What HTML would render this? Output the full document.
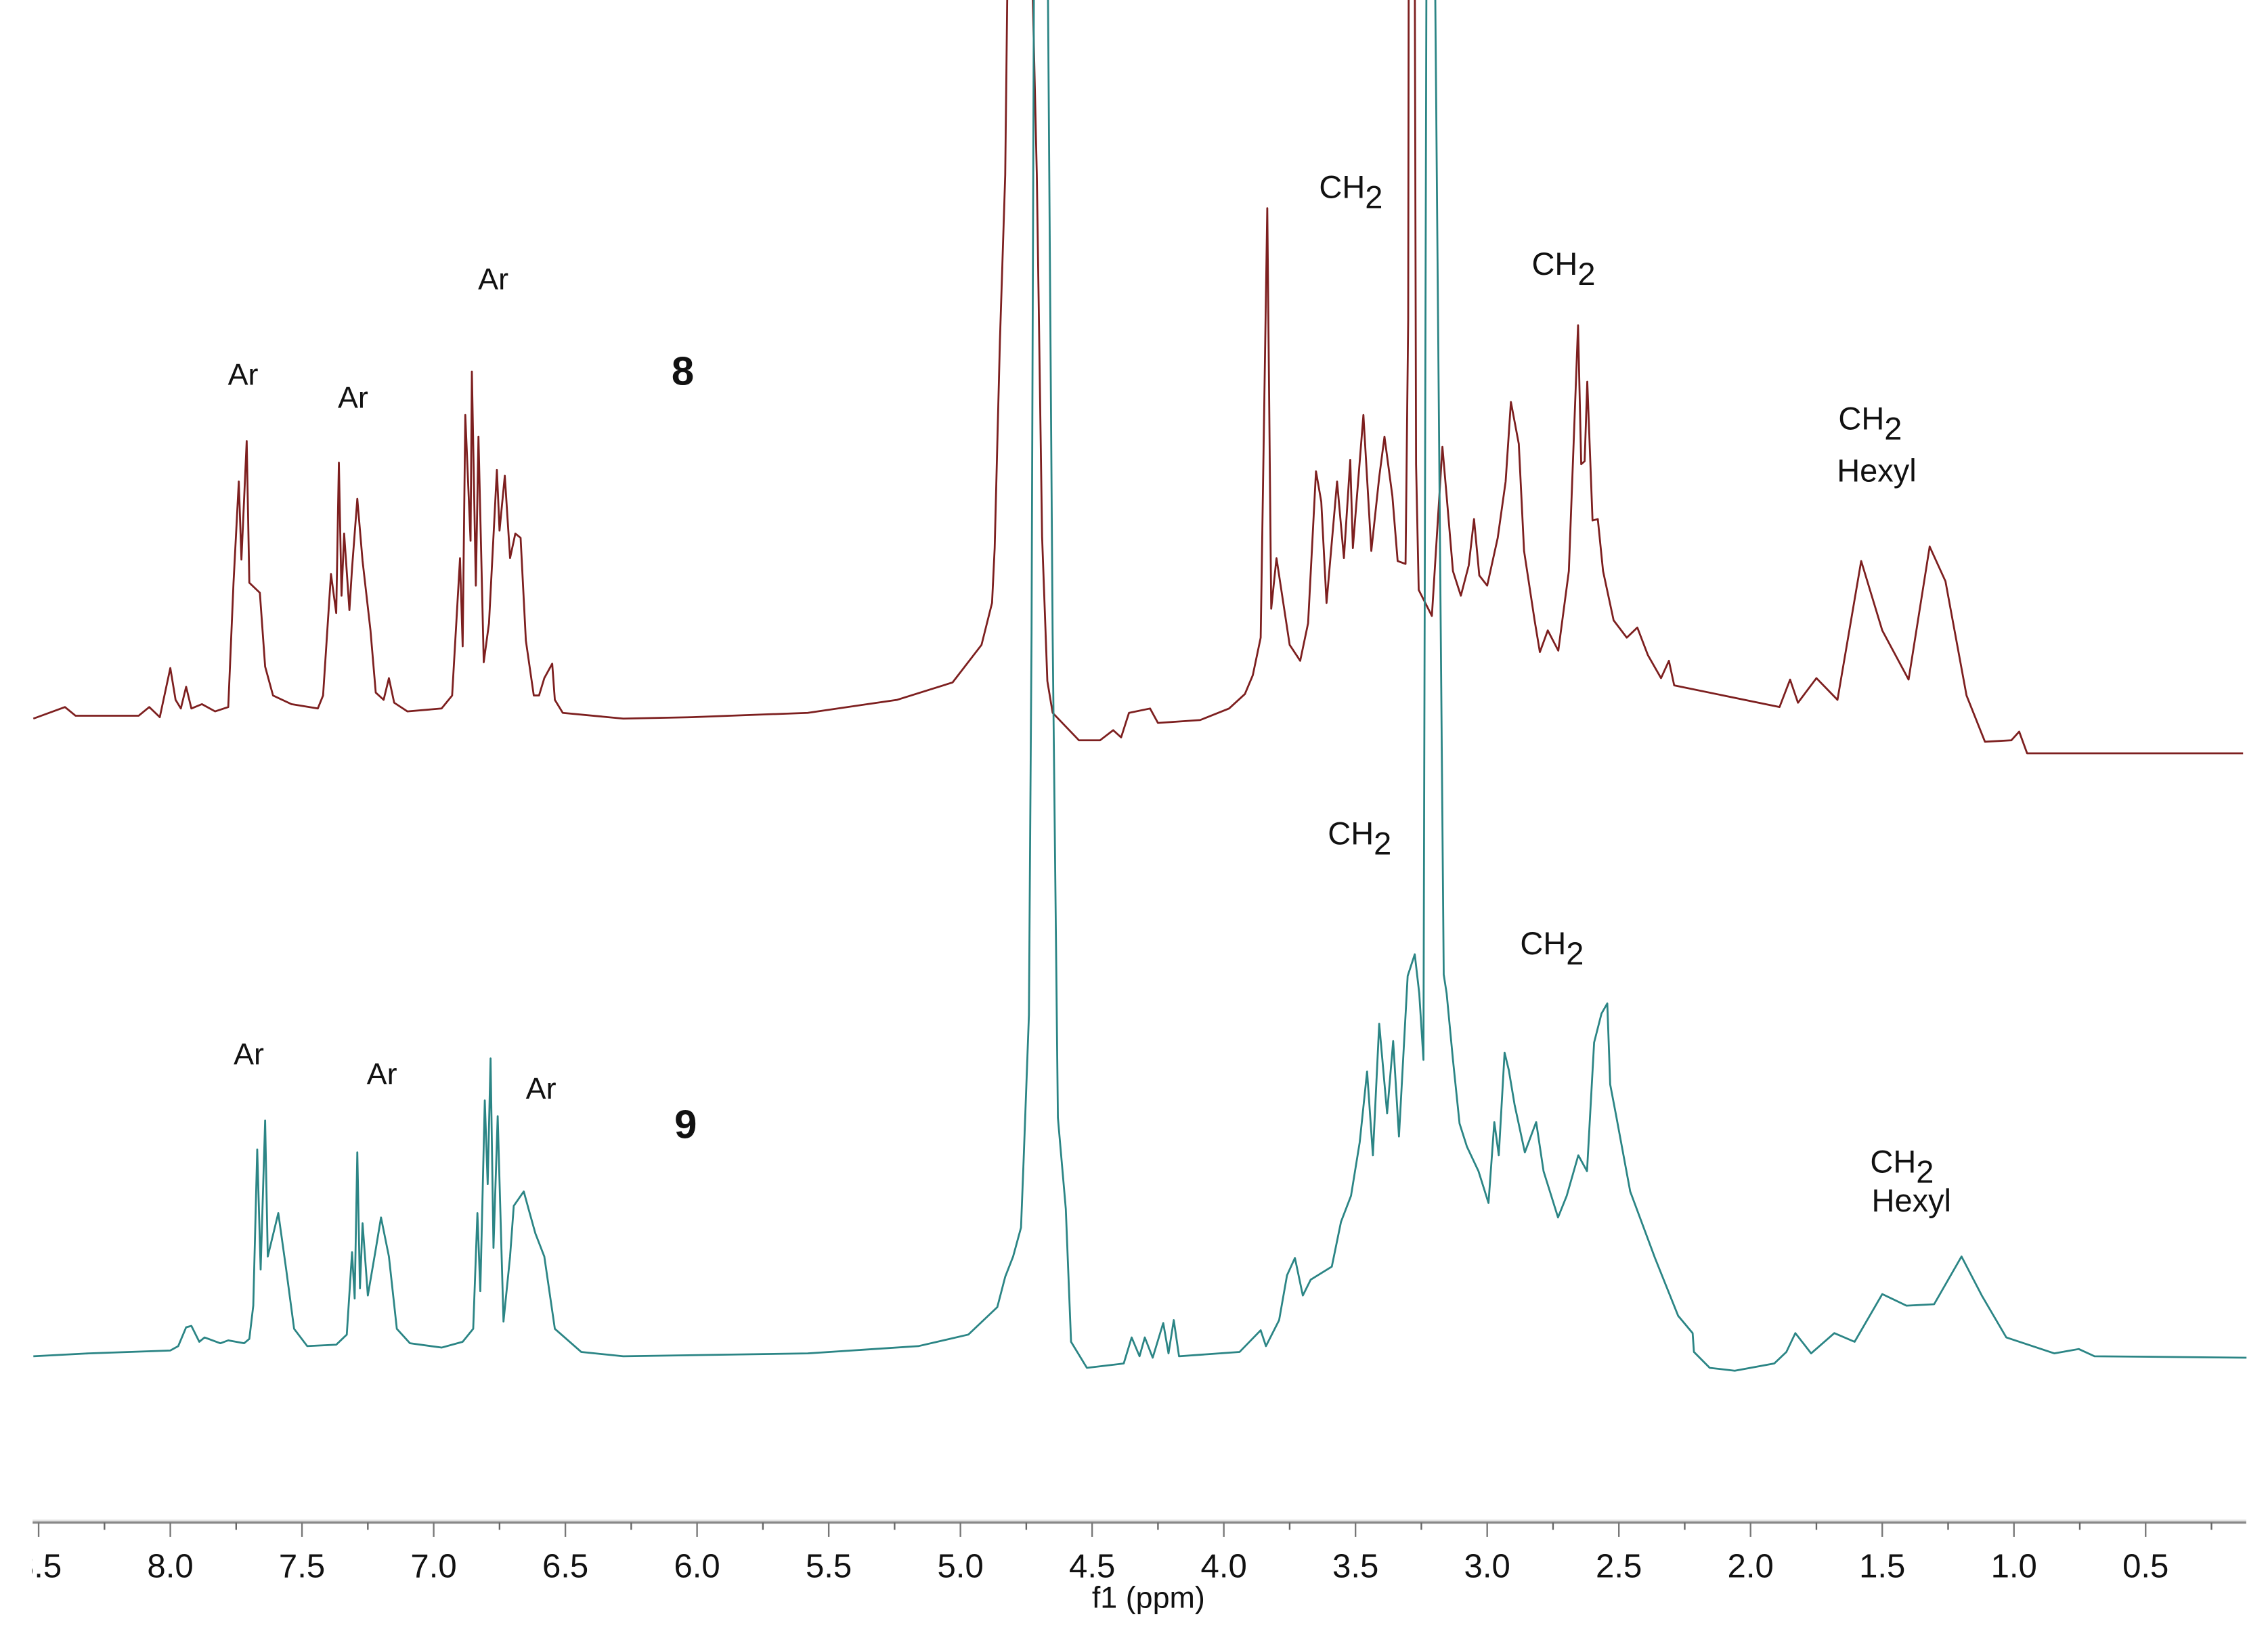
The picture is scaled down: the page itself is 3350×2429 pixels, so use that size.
<!DOCTYPE html>
<html>
<head>
<meta charset="utf-8">
<style>
  html, body { margin:0; padding:0; background:#ffffff; }
  body { width:3350px; height:2429px; overflow:hidden; }
  svg { display:block; }
  text { font-family:"Liberation Sans", Arial, sans-serif; fill:#111; }
</style>
</head>
<body>
<svg id="chart" width="3350" height="2429" viewBox="0 0 1568 1137" xmlns="http://www.w3.org/2000/svg">
  <defs>
    <clipPath id="plotClip"><rect x="22" y="0" width="1532" height="1050"/></clipPath>
    <clipPath id="axisClip"><rect x="22" y="1030" width="1540" height="107"/></clipPath>
  </defs>
  <g id="spectra" clip-path="url(#plotClip)"></g>
  <g id="labels">
    <text x="168" y="266" font-size="21" text-anchor="middle">Ar</text>
    <text x="244" y="282" font-size="21" text-anchor="middle">Ar</text>
    <text x="341" y="200" font-size="21" text-anchor="middle">Ar</text>
    <text x="472" y="266" font-size="28" font-weight="bold" text-anchor="middle">8</text>
    <text x="912" y="137" font-size="22">CH<tspan font-size="22" dy="7">2</tspan></text>
    <text x="1059" y="190" font-size="22">CH<tspan font-size="22" dy="7">2</tspan></text>
    <text x="1271" y="297" font-size="22">CH<tspan font-size="22" dy="7">2</tspan></text>
    <text x="1270" y="333" font-size="22">Hexyl</text>

    <text x="172" y="736" font-size="21" text-anchor="middle">Ar</text>
    <text x="264" y="750" font-size="21" text-anchor="middle">Ar</text>
    <text x="374" y="760" font-size="21" text-anchor="middle">Ar</text>
    <text x="474" y="787" font-size="28" font-weight="bold" text-anchor="middle">9</text>
    <text x="918" y="584" font-size="22">CH<tspan font-size="22" dy="7">2</tspan></text>
    <text x="1051" y="660" font-size="22">CH<tspan font-size="22" dy="7">2</tspan></text>
    <text x="1293" y="811" font-size="22">CH<tspan font-size="22" dy="7">2</tspan></text>
    <text x="1294" y="838" font-size="22">Hexyl</text>
  </g>
  <g id="axis">
    <line x1="22.5" y1="1051.6" x2="1553" y2="1051.6" stroke="#e2e2e2" stroke-width="1.2"/>
    <line x1="22.5" y1="1053" x2="1553" y2="1053" stroke="#888" stroke-width="1.6"/>
    <g id="ticks"></g>
    <g id="tickLabels" clip-path="url(#axisClip)"></g>
    <text x="794" y="1112" font-size="21" text-anchor="middle">f1 (ppm)</text>
  </g>
</svg>
<script>
// ---- chart data ----
const ppm8 = [8.52,8.40,8.36,8.12,8.08,8.04,8.00,7.98,7.96,7.94,7.92,7.88,7.83,7.78,7.76,7.74,7.73,7.71,7.70,7.66,7.64,7.61,7.54,7.44,7.42,7.39,7.37,7.36,7.35,7.34,7.32,7.31,7.29,7.27,7.24,7.22,7.19,7.17,7.15,7.10,6.97,6.93,6.90,6.89,6.88,6.86,6.855,6.84,6.83,6.81,6.79,6.76,6.75,6.73,6.71,6.69,6.67,6.65,6.62,6.60,6.58,6.55,6.54,6.51,6.28,6.02,5.58,5.24,5.03,4.92,4.88,4.87,4.86,4.85,4.83,4.82,4.80,4.74,4.73,4.71,4.69,4.67,4.65,4.55,4.47,4.42,4.39,4.36,4.28,4.25,4.09,3.98,3.92,3.89,3.86,3.835,3.82,3.80,3.75,3.71,3.68,3.65,3.63,3.61,3.57,3.544,3.52,3.51,3.47,3.44,3.41,3.39,3.36,3.34,3.31,3.30,3.295,3.28,3.27,3.26,3.21,3.17,3.154,3.13,3.10,3.07,3.05,3.03,3.00,2.96,2.93,2.91,2.88,2.86,2.82,2.80,2.77,2.73,2.69,2.655,2.643,2.63,2.62,2.60,2.58,2.56,2.52,2.47,2.43,2.39,2.34,2.31,2.29,1.97,1.89,1.85,1.82,1.75,1.67,1.58,1.50,1.40,1.32,1.26,1.18,1.11,1.01,0.98,0.95,0.90,0.13];
const int8 = [24,32,26,26,32,25,59,37,31,46,31,34,29,32,118,188,134,216,118,111,60,40,34,31,40,124,97,201,109,152,99,128,176,133,85,42,37,52,35,29,31,40,135,74,234,147,264,116,219,63,90,196,154,192,135,152,149,78,40,40,52,62,37,28,24,25,28,37,49,75,104,142,214,286,400,560,900,900,560,400,150,50,28,9,9,16,11,28,31,21,23,31,41,54,80,377,100,135,75,64,90,195,174,104,188,135,203,142,234,140,191,219,178,133,131,300,900,900,200,113,95,212,178,126,109,130,162,123,116,149,188,243,214,140,92,70,85,71,126,296,200,202,257,161,162,126,92,80,87,68,52,64,47,35,32,51,35,52,37,133,85,51,143,119,40,8,9,15,0,0,0];
const ppm9 = [8.52,8.31,8.00,7.97,7.94,7.92,7.89,7.87,7.81,7.78,7.72,7.70,7.685,7.67,7.657,7.64,7.63,7.61,7.59,7.56,7.53,7.48,7.37,7.33,7.31,7.30,7.29,7.28,7.27,7.25,7.22,7.20,7.17,7.14,7.09,6.97,6.89,6.85,6.834,6.823,6.806,6.795,6.784,6.773,6.757,6.735,6.71,6.696,6.658,6.64,6.614,6.58,6.54,6.44,6.28,5.58,5.16,4.97,4.86,4.83,4.80,4.77,4.76,4.74,4.73,4.72,4.67,4.65,4.63,4.60,4.58,4.52,4.38,4.35,4.32,4.30,4.27,4.23,4.21,4.19,4.17,3.94,3.86,3.84,3.79,3.76,3.73,3.70,3.67,3.59,3.555,3.517,3.484,3.456,3.434,3.41,3.38,3.357,3.335,3.302,3.275,3.258,3.242,3.23,3.20,3.165,3.154,3.13,3.105,3.077,3.033,2.995,2.973,2.956,2.934,2.918,2.896,2.857,2.814,2.786,2.731,2.698,2.654,2.621,2.594,2.566,2.544,2.533,2.511,2.457,2.363,2.275,2.22,2.215,2.155,2.06,1.91,1.864,1.83,1.77,1.682,1.605,1.5,1.408,1.303,1.199,1.122,1.029,0.847,0.754,0.694,0.117];
const int9 = [0,2,4,7,20,21,10,13,9,11,9,12,35,143,60,163,69,84,99,60,19,7,8,15,72,40,141,47,92,42,74,96,69,19,9,6,10,19,99,45,177,119,206,75,166,24,69,104,114,102,85,69,19,3,0,2,7,15,34,55,69,89,136,236,500,1000,1000,500,165,102,10,-8,-5,13,0,13,-1,23,2,25,0,3,18,7,25,56,68,42,53,62,93,111,148,197,139,230,168,218,152,263,278,251,205,1000,1000,264,251,205,161,145,128,106,162,139,210,198,174,141,162,128,96,111,139,128,217,237,244,188,167,114,68,28,16,3,-8,-10,-5,3,16,2,16,10,43,35,36,69,42,13,2,5,0,-1];
const majorTicks = [8.5,8.0,7.5,7.0,6.5,6.0,5.5,5.0,4.5,4.0,3.5,3.0,2.5,2.0,1.5,1.0,0.5];
const tickLabels = ["8.5","8.0","7.5","7.0","6.5","6.0","5.5","5.0","4.5","4.0","3.5","3.0","2.5","2.0","1.5","1.0","0.5"];
const minorTicks = [8.25,7.75,7.25,6.75,6.25,5.75,5.25,4.75,4.25,3.75,3.25,2.75,2.25,1.75,1.25,0.75,0.25];

// ---- axis functions ----
const X0 = 117.7, PPM0 = 8.0, PX_PER_PPM = 182.1;
function xScale(ppm) { return X0 + (PPM0 - ppm) * PX_PER_PPM; }
const ZERO8 = 521, ZERO9 = 938;
function y8(v) { return ZERO8 - v; }
function y9(v) { return ZERO9 - v; }

const NS = "http://www.w3.org/2000/svg";
function buildPath(ppms, vals, yf) {
  const pts = ppms.map((p, i) => [xScale(p), yf(vals[i])]).sort((a, b) => a[0] - b[0]);
  return pts.map((p, i) => (i ? "L" : "M") + p[0].toFixed(2) + " " + p[1].toFixed(2)).join(" ");
}

const spectra = document.getElementById("spectra");
const p8 = document.createElementNS(NS, "path");
p8.setAttribute("d", buildPath(ppm8, int8, y8));
p8.setAttribute("fill", "none");
p8.setAttribute("stroke", "#7d1f1f");
p8.setAttribute("stroke-width", "1.3");
p8.setAttribute("stroke-linejoin", "round");


spectra.appendChild(p8);

const p9 = document.createElementNS(NS, "path");
p9.setAttribute("d", buildPath(ppm9, int9, y9));
p9.setAttribute("fill", "none");
p9.setAttribute("stroke", "#2b8585");
p9.setAttribute("stroke-width", "1.3");
p9.setAttribute("stroke-linejoin", "round");


spectra.appendChild(p9);

const ticksG = document.getElementById("ticks");
const labelsG = document.getElementById("tickLabels");
majorTicks.forEach((t, i) => {
  const x = xScale(t);
  const ln = document.createElementNS(NS, "line");
  ln.setAttribute("x1", x); ln.setAttribute("x2", x);
  ln.setAttribute("y1", 1053); ln.setAttribute("y2", 1063);
  ln.setAttribute("stroke", "#777"); ln.setAttribute("stroke-width", "1.1");
  
  
  ticksG.appendChild(ln);
  const tx = document.createElementNS(NS, "text");
  tx.setAttribute("x", x); tx.setAttribute("y", 1091);
  tx.setAttribute("font-size", "23"); tx.setAttribute("text-anchor", "middle");
  tx.textContent = tickLabels[i];
  
  
  labelsG.appendChild(tx);
});
minorTicks.forEach(t => {
  const x = xScale(t);
  const ln = document.createElementNS(NS, "line");
  ln.setAttribute("x1", x); ln.setAttribute("x2", x);
  ln.setAttribute("y1", 1053); ln.setAttribute("y2", 1058);
  ln.setAttribute("stroke", "#666"); ln.setAttribute("stroke-width", "1.1");
  
  
  ticksG.appendChild(ln);
});
</script>
</body>
</html>
